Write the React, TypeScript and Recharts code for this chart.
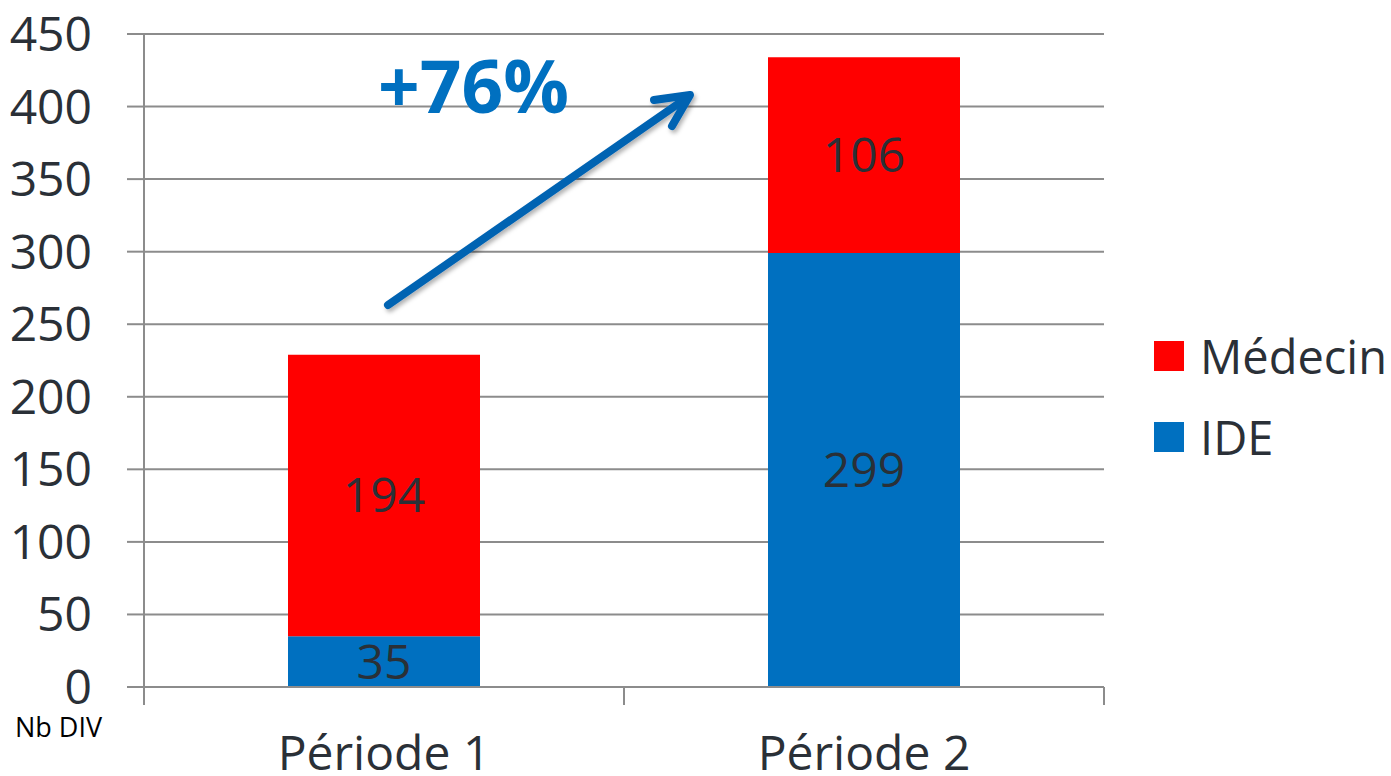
import { BarChart, Bar, XAxis, YAxis, CartesianGrid, LabelList } from 'recharts';

const categories = ['Période 1', 'Période 2'];
const ideValues = [35, 299];
// bar heights as drawn; the printed labels differ for période 2
const medecinValues = [194, 135];
const medecinLabels = ['194', '106'];
const yTicks = [0, 50, 100, 150, 200, 250, 300, 350, 400, 450];

const data = categories.map((name, i) => ({
  name,
  ide: ideValues[i],
  medecin: medecinValues[i],
  medecinLabel: medecinLabels[i]
}));

const FONT = '"Open Sans", "DejaVu Sans", sans-serif';
const TEXT = '#2A3037';
const GRID = '#8C8C8C';
const RED = '#FF0000';
const BLUE = '#0070C0';

function CategoryTick(props: any) {
  const { x, y, payload, width } = props;
  const half = (width || 960) / (2 * categories.length);
  return (
    <g>
      <line x1={x - half} y1={y} x2={x - half} y2={y + 18} stroke={GRID} strokeWidth={2} />
      <line x1={x + half} y1={y} x2={x + half} y2={y + 18} stroke={GRID} strokeWidth={2} />
      <text x={x} y={y + 83} textAnchor="middle" fill={TEXT} fontSize={48} fontFamily={FONT}>
        {payload.value}
      </text>
    </g>
  );
}

export default function App() {
  return (
    <div style={{ position: 'absolute', left: 0, top: 0, width: 1391, height: 776, background: '#fff' }}>
      <BarChart
        width={1391}
        height={776}
        data={data}
        margin={{ top: 34, right: 287, left: 0, bottom: 0 }}
        barCategoryGap="30%"
      >
        <CartesianGrid horizontal vertical={false} stroke={GRID} strokeWidth={2} />
        <XAxis
          dataKey="name"
          height={89}
          axisLine={{ stroke: GRID, strokeWidth: 2 }}
          tickLine={false}
          tickSize={0}
          tickMargin={0}
          tick={<CategoryTick />}
          interval={0}
        />
        <YAxis
          width={144}
          domain={[0, 450]}
          ticks={yTicks}
          interval={0}
          axisLine={{ stroke: GRID, strokeWidth: 2 }}
          tickLine={{ stroke: GRID, strokeWidth: 2 }}
          tickSize={17}
          tickMargin={35}
          tick={{ fill: TEXT, fontSize: 48, fontFamily: FONT }}
        />
        <Bar dataKey="ide" stackId="a" fill={BLUE} isAnimationActive={false}>
          <LabelList dataKey="ide" position="center" fill={TEXT} fontSize={48} fontFamily={FONT} />
        </Bar>
        <Bar dataKey="medecin" stackId="a" fill={RED} isAnimationActive={false}>
          <LabelList dataKey="medecinLabel" position="center" fill={TEXT} fontSize={48} fontFamily={FONT} />
        </Bar>
      </BarChart>

      <svg
        width={1391}
        height={776}
        style={{ position: 'absolute', left: 0, top: 0, pointerEvents: 'none' }}
      >
        <defs>
          <filter id="shadow" x="-20%" y="-20%" width="140%" height="140%">
            <feDropShadow dx="2" dy="3" stdDeviation="2" floodColor="#000" floodOpacity="0.3" />
          </filter>
        </defs>
        <g filter="url(#shadow)" stroke="#0563B2" strokeWidth={8} strokeLinecap="round" fill="none">
          <line x1={388} y1={305} x2={688} y2={97} />
          <polyline points="654,100 690,95 672,126" strokeLinejoin="round" />
        </g>
        <text x={378} y={113} fill={BLUE} fontSize={73} fontWeight="bold" fontFamily={FONT}>
          +76%
        </text>
        <text x={15} y={737} fill="#000" fontSize={27} fontFamily={FONT}>
          Nb DIV
        </text>
      </svg>

      <div style={{ position: 'absolute', left: 1154, top: 325, fontFamily: FONT, fontSize: 47, color: TEXT }}>
        {[
          { label: 'Médecin', color: RED },
          { label: 'IDE', color: BLUE }
        ].map((item) => (
          <div key={item.label} style={{ display: 'flex', alignItems: 'center', height: 62, marginBottom: 19 }}>
            <span style={{ display: 'inline-block', width: 30, height: 30, background: item.color, marginRight: 16 }} />
            <span>{item.label}</span>
          </div>
        ))}
      </div>
    </div>
  );
}
